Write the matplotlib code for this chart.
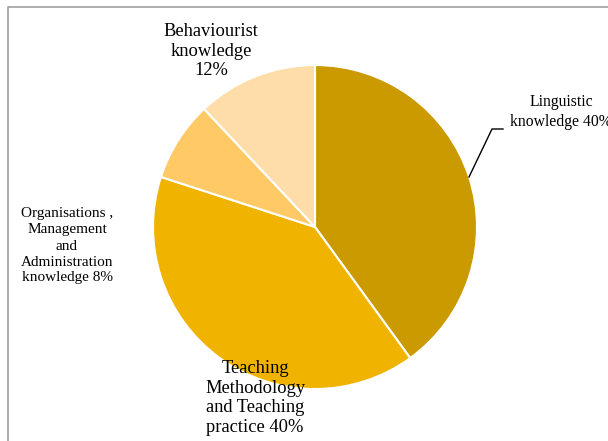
import matplotlib.pyplot as plt

# slices in drawing order (clockwise from 12 o'clock)
labels = ["Linguistic\nknowledge",
          "Teaching\nMethodology\nand Teaching\npractice",
          "Organisations ,\nManagement\nand\nAdministration\nknowledge",
          "Behaviourist\nknowledge\n"]
shares = [40, 40, 8, 12]
colors = ["#CA9A00", "#F0B400", "#FFC966", "#FFDDA8"]

W, H = 608, 441
plt.rcParams["font.family"] = ["Liberation Serif", "DejaVu Serif"]

fig = plt.figure(figsize=(W / 100, H / 100), dpi=100)
ax = fig.add_axes([0, 0, 1, 1])


def py(y):
    # pixel row (top-down) -> data y
    return H - y


ax.pie(shares, colors=colors, startangle=90, counterclock=False,
       center=(315, py(227)), radius=162, frame=True,
       wedgeprops=dict(edgecolor="white", linewidth=1.5))
ax.set_xlim(0, W)
ax.set_ylim(0, H)
ax.axis("off")

# label positions (pixel coords), font size, line spacing
spots = [(561, 112, 11.3, 1.25), (255, 398, 13.3, 1.22),
         (67, 246, 11, 1.3), (211, 51, 13.3, 1.22)]
for lab, pct, (x, y, fs, ls) in zip(labels, shares, spots):
    sep = "" if lab.endswith("\n") else " "
    ax.text(x, py(y), f"{lab}{sep}{pct}%", ha="center", va="center",
            fontsize=fs, linespacing=ls, zorder=5)

# leader line for the Linguistic label
ax.plot([469, 492, 503], [py(177), py(129), py(129)], color="black", lw=1.0)

# chart-area border (cropped at right and bottom)
ax.plot([8, 8, W + 5], [-5, py(7), py(7)], color="#A0A0A0", lw=1.2,
        clip_on=False)

fig.savefig("out.png", dpi=100)
